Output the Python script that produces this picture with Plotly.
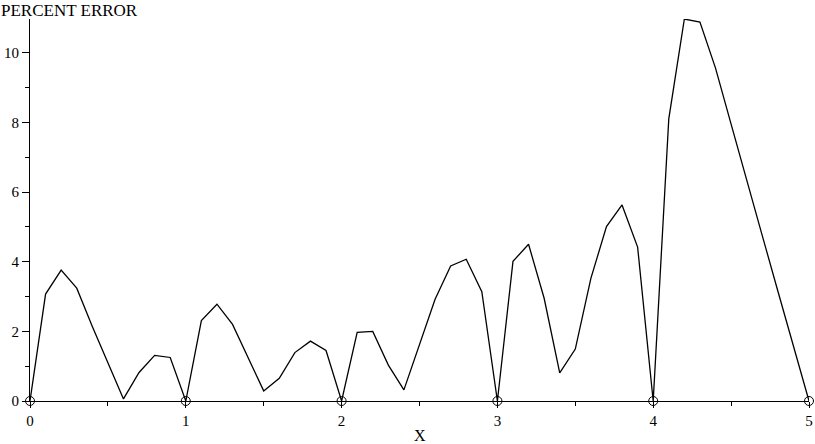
import plotly.graph_objects as go

x_vals = [round(i * 0.1, 1) for i in range(51)]
err_vals = [
    0.0, 3.07, 3.76, 3.24, 2.14, 1.08, 0.06, 0.82, 1.31, 1.25,
    0.0, 2.31, 2.78, 2.20, 1.23, 0.29, 0.65, 1.39, 1.72, 1.45,
    0.0, 1.97, 2.00, 1.03, 0.32, 1.65, 2.92, 3.88, 4.07, 3.14,
    0.0, 4.01, 4.50, 2.95, 0.81, 1.49, 3.52, 5.01, 5.63, 4.42,
    0.0, 8.10, 10.97, 10.88, 9.56, 7.95, 6.32, 4.75, 3.16, 1.58,
    0.0,
]
# exact nodes, drawn as open circles
node_x = [0, 1, 2, 3, 4, 5]
node_y = [0, 0, 0, 0, 0, 0]

serif = "Liberation Serif, Times New Roman, serif"

fig = go.Figure()
fig.add_trace(go.Scatter(
    x=x_vals, y=err_vals, mode="lines",
    line=dict(color="black", width=1.3),
    showlegend=False, hoverinfo="skip",
))
fig.add_trace(go.Scatter(
    x=node_x, y=node_y, mode="markers",
    marker=dict(symbol="circle-open", size=9, color="black", line=dict(width=1)),
    showlegend=False, cliponaxis=False,
))

fig.update_layout(
    width=815, height=444,
    margin=dict(l=30, r=6, t=19, b=43),
    plot_bgcolor="white", paper_bgcolor="white",
    font=dict(family=serif, size=14, color="black"),
    xaxis=dict(
        range=[0, 5], showgrid=False, zeroline=False, automargin=False,
        showline=True, linecolor="black", linewidth=1,
        ticks="outside", ticklen=6, tickcolor="black", dtick=1,
        minor=dict(ticks="outside", ticklen=4, dtick=0.5, tickcolor="black"),
        tickfont=dict(family=serif, size=15),
    ),
    yaxis=dict(
        range=[0, 10.97], showgrid=False, zeroline=False, automargin=False,
        showline=True, linecolor="black", linewidth=1,
        ticks="outside", ticklen=7, tickcolor="black", dtick=2,
        minor=dict(ticks="outside", ticklen=4, dtick=1, tickcolor="black"),
        tickfont=dict(family=serif, size=15),
    ),
    annotations=[
        dict(text="PERCENT ERROR", xref="paper", yref="paper", x=0, y=1,
             xanchor="left", yanchor="middle", xshift=-31, yshift=9,
             showarrow=False, font=dict(family=serif, size=17)),
        dict(text="X", xref="x", yref="paper", x=2.5, y=0,
             xanchor="center", yanchor="middle", yshift=-34,
             showarrow=False, font=dict(family=serif, size=16)),
    ],
)

fig.write_html("out.html", config={"displayModeBar": False},
               post_script="document.body.style.margin='0';")
